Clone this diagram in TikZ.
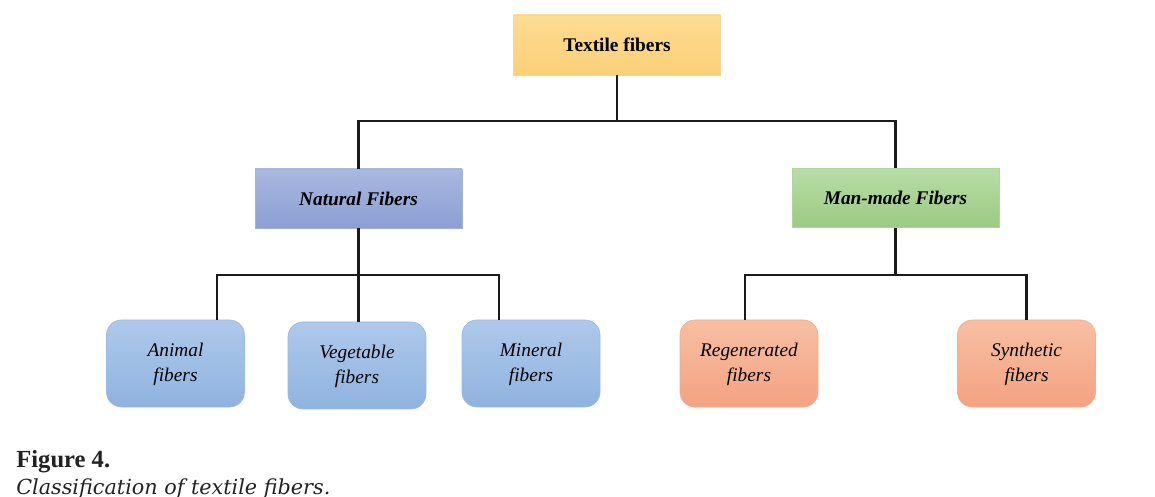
\documentclass[tikz,border=0pt]{standalone}
\usepackage{fontspec}
\setmainfont{Liberation Serif}
\newfontfamily\capfont{DejaVu Serif}
\usepackage{xcolor}
\usetikzlibrary{positioning,calc,shadings}

\definecolor{topA}{HTML}{FDDC93}
\definecolor{topB}{HTML}{FBCF78}
\definecolor{natA}{HTML}{A9B8DF}
\definecolor{natB}{HTML}{8C9FD4}
\definecolor{manA}{HTML}{B8DCA6}
\definecolor{manB}{HTML}{9ACB83}
\definecolor{bluA}{HTML}{AEC9EA}
\definecolor{bluB}{HTML}{8FB3DF}
\definecolor{oraA}{HTML}{F7BFA2}
\definecolor{oraB}{HTML}{F3A282}
\definecolor{linecol}{HTML}{1A1A1A}
\definecolor{capcol}{HTML}{222222}

\begin{document}
\begin{tikzpicture}[
    head/.style={rectangle, minimum width=4.14cm, minimum height=1.2cm, font=\fontsize{11}{13}\selectfont\bfseries},
    group/.style={rectangle, minimum width=4.14cm, minimum height=1.18cm, font=\fontsize{11}{13}\selectfont\bfseries\itshape},
    leaf/.style={rectangle, rounded corners=0.3cm, minimum width=2.76cm, minimum height=1.74cm, align=center, text depth=0.05cm, font=\fontsize{11}{14}\selectfont\itshape},
    link/.style={draw=linecol, line width=1.2pt}
]
    \useasboundingbox (0,0) rectangle (23.1,-9.94);

    % Top
    \node[head, top color=topA, bottom color=topB, draw=topB!90!black!60] (textile) at (12.34,-0.90) {Textile fibers};

    % Second level
    \node[group, top color=natA, bottom color=natB, draw=natB!80!white] (natural) at (7.17,-3.97) {Natural Fibers};
    \node[group, top color=manA, bottom color=manB, draw=manB!80!white] (manmade) at (17.91,-3.96) {Man-made Fibers};

    % Leaves
    \node[leaf, top color=bluA, bottom color=bluB, draw=bluB!90!white] (animal) at (3.51,-7.27) {Animal\\fibers};
    \node[leaf, top color=bluA, bottom color=bluB, draw=bluB!90!white] (vegetable) at (7.14,-7.31) {Vegetable\\fibers};
    \node[leaf, top color=bluA, bottom color=bluB, draw=bluB!90!white] (mineral) at (10.62,-7.27) {Mineral\\fibers};
    \node[leaf, top color=oraA, bottom color=oraB, draw=oraB!90!white] (regen) at (14.98,-7.27) {Regenerated\\fibers};
    \node[leaf, top color=oraA, bottom color=oraB, draw=oraB!90!white] (synth) at (20.53,-7.27) {Synthetic\\fibers};

    % Connectors
    \draw[link] (textile.south) -- ++(0,-0.92) -| (natural.north);
    \draw[link] (textile.south) -- ++(0,-0.92) -| (manmade.north);
    \draw[link] (natural.south) -- ++(0,-0.94) -| ($(animal.north)+(0.83,0)$);
    \draw[link] (natural.south) -- ++(0,-0.94) -| ($(vegetable.north)+(0.03,0)$);
    \draw[link] (natural.south) -- ++(0,-0.94) -| ($(mineral.north)+(-0.64,0)$);
    \draw[link] (manmade.south) -- ++(0,-0.94) -| ($(regen.north)+(-0.08,0)$);
    \draw[link] (manmade.south) -- ++(0,-0.94) -| (synth.north);

    % Caption
    \node[anchor=base west, inner sep=0pt, text=capcol, font=\fontsize{14}{16}\selectfont\bfseries] (figno) at (0.32,-9.34) {Figure 4.};
    \node[anchor=base west, inner sep=0pt, text=capcol, font=\capfont\fontsize{11.8}{13}\selectfont\itshape] (figcap) at (0.32,-9.89) {Classification of textile fibers.};
\end{tikzpicture}
\end{document}
